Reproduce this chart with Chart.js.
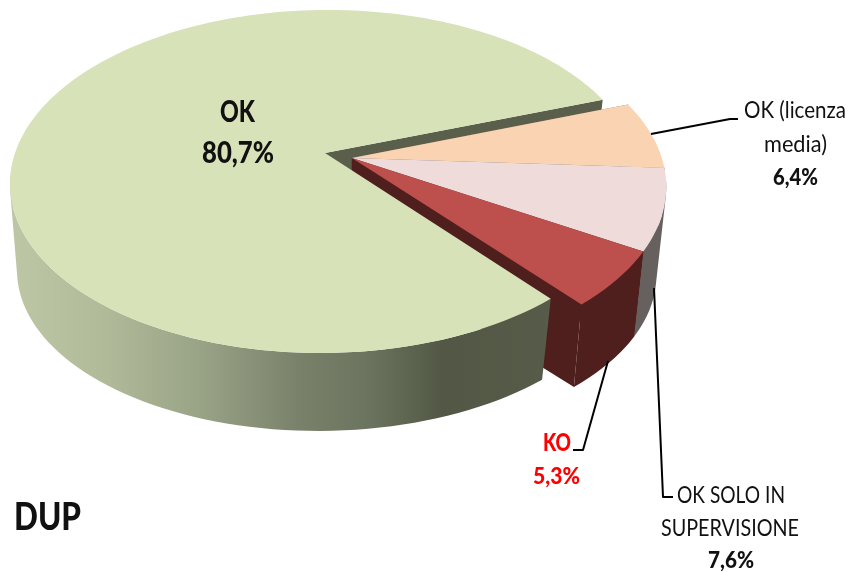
<!DOCTYPE html>
<html>
<head>
<meta charset="utf-8">
<title>DUP</title>
<script src="https://cdn.jsdelivr.net/npm/chart.js@4"></script>
<style>
html, body { margin: 0; padding: 0; background: #fff; overflow: hidden; }
canvas { display: block; }
</style>
</head>
<body>
<canvas id="pie" width="852" height="572"></canvas>
<script>
const chartTitle = 'DUP';
const categories = ['OK (licenza media)', 'OK SOLO IN SUPERVISIONE', 'KO', 'OK'];
const shares = [6.4, 7.6, 5.3, 80.7];
const topColors = ['#fad3b3', '#eedbda', '#bd4f4c', '#d7e2b9'];
const sideColors = ['#8a7460', '#66605f', '#4f1f1e', '#5a5f4b'];

const pct = i => shares[i].toFixed(1).replace('.', ',') + '%';

// perspective of the disc: top face and bottom face, apex of the big slice as origin
const topFace = { x: 325, y: 153, a: 310, b: 166.8, skew: -4 };
const bottomFace = { x: 323, y: 241.5, a: 301, b: 158, skew: -4 };
const smallBottomFace = { x: 325, y: 243.5, a: 301, b: 158, skew: -4 };
const tilt = 0.166;
const explode = { u: 0.0866, v: 0.0297, r: 0.995 }; // the three small slices
const BIG = 3;

function project(face, u, v) {
    const w = 1 - tilt * v;
    return [face.x + (face.a * u + face.skew * v) / w, face.y + face.b * v / w];
}

function rimPoints(arc, i, face) {
    const off = i === BIG ? { u: 0, v: 0, r: 1 } : explode;
    const steps = Math.ceil((arc.endAngle - arc.startAngle) * 30);
    const pts = [];
    for (let s = 0; s <= steps; s++) {
        const t = arc.startAngle + (arc.endAngle - arc.startAngle) * s / steps;
        pts.push(project(face, off.u + off.r * Math.cos(t), off.v + off.r * Math.sin(t)));
    }
    return pts;
}

function apex(i, face) {
    return i === BIG ? project(face, 0, 0) : project(face, explode.u, explode.v);
}

function fillPoly(ctx, pts, color) {
    ctx.beginPath();
    pts.forEach((p, n) => n ? ctx.lineTo(p[0], p[1]) : ctx.moveTo(p[0], p[1]));
    ctx.closePath();
    ctx.fillStyle = color;
    ctx.fill();
}

// the curved wall: quads of the near part of the rim, filled as one path so no seams show
function fillWall(ctx, top, bot, color) {
    ctx.beginPath();
    for (let n = 0; n < top.length - 1; n++) {
        if (top[n][1] < 175) continue;
        const q = [top[n], top[n + 1], bot[n + 1], bot[n]];
        let area = 0;
        q.forEach((p, k) => {
            const r = q[(k + 1) % 4];
            area += p[0] * r[1] - r[0] * p[1];
        });
        if (area < 0) q.reverse();
        q.forEach((p, k) => k ? ctx.lineTo(p[0], p[1]) : ctx.moveTo(p[0], p[1]));
        ctx.closePath();
    }
    ctx.fillStyle = color;
    ctx.fill();
}

const pie3d = {
    id: 'pie3d',
    beforeDatasetsDraw(chart) {
        const ctx = chart.ctx;
        const arcs = chart.getDatasetMeta(0).data;
        const top = arcs.map((a, i) => rimPoints(a, i, topFace));
        const bot = arcs.map((a, i) => rimPoints(a, i, i === BIG ? bottomFace : smallBottomFace));

        // far cut face of the big slice
        const t = top[BIG], b = bot[BIG];
        fillPoly(ctx, [apex(BIG, topFace), t[t.length - 1], b[b.length - 1], apex(BIG, bottomFace)], sideColors[BIG]);

        // small slices: sides, far to near
        [0, 1, 2].forEach(i => {
            const first = top[i][0], last = top[i][top[i].length - 1];
            const first2 = bot[i][0], last2 = bot[i][bot[i].length - 1];
            fillPoly(ctx, [apex(i, topFace), first, first2, apex(i, smallBottomFace)], sideColors[i]);
            fillPoly(ctx, [apex(i, topFace), last, last2, apex(i, smallBottomFace)], sideColors[i]);
            fillWall(ctx, top[i], bot[i], sideColors[i]);
        });

        // rim of the big slice, shaded left to right
        const grad = ctx.createLinearGradient(18, 0, 548, 0);
        grad.addColorStop(0, '#bcc6a5');
        grad.addColorStop(0.17, '#b0ba99');
        grad.addColorStop(0.35, '#98a285');
        grad.addColorStop(0.53, '#7a816b');
        grad.addColorStop(0.66, '#6b745e');
        grad.addColorStop(0.8, '#525845');
        grad.addColorStop(1, '#575b49');
        fillWall(ctx, t, b, grad);

        // top faces
        [BIG, 0, 1, 2].forEach(i => {
            fillPoly(ctx, [apex(i, topFace)].concat(top[i]), topColors[i]);
        });
        return false;
    },
    afterDraw(chart) {
        const ctx = chart.ctx;
        ctx.strokeStyle = '#000';
        ctx.lineWidth = 2;
        ctx.lineJoin = 'round';
        leaders.forEach(line => {
            ctx.beginPath();
            line.forEach((p, n) => n ? ctx.lineTo(p[0], p[1]) : ctx.moveTo(p[0], p[1]));
            ctx.stroke();
        });
        ctx.textAlign = 'left';
        ctx.textBaseline = 'alphabetic';
        texts.forEach(l => {
            ctx.font = l.font;
            ctx.fillStyle = l.color;
            ctx.fillText(l.text, l.x, l.y, l.w);
        });
    }
};

const leaders = [
    [[651, 134], [730, 119], [738, 119]],
    [[608, 361], [583, 450], [573, 450]],
    [[654, 288], [663, 497], [673, 497]]
];

const regular = '23px Lato, sans-serif';
const bold = '900 22px Lato, sans-serif';
const texts = [
    { text: 'OK', x: 220, y: 122, w: 35, font: '900 30px Lato, sans-serif', color: '#111' },
    { text: pct(3), x: 202, y: 163, w: 72, font: '900 30px Lato, sans-serif', color: '#111' },
    { text: 'OK (licenza', x: 744, y: 118, w: 102, font: regular, color: '#111' },
    { text: 'media)', x: 764, y: 152, w: 63, font: regular, color: '#111' },
    { text: pct(0), x: 773, y: 185, w: 45, font: bold, color: '#111' },
    { text: 'KO', x: 543, y: 451, w: 28, font: '900 24px Lato, sans-serif', color: '#f00' },
    { text: pct(2), x: 533, y: 484, w: 47, font: bold, color: '#f00' },
    { text: 'OK SOLO IN', x: 677, y: 503, w: 108, font: regular, color: '#111' },
    { text: 'SUPERVISIONE', x: 661, y: 536, w: 138, font: regular, color: '#111' },
    { text: pct(1), x: 708, y: 568, w: 46, font: bold, color: '#111' },
    { text: chartTitle, x: 14, y: 530, w: 67, font: '900 38px Lato, sans-serif', color: '#111' }
];

new Chart(document.getElementById('pie'), {
    type: 'pie',
    data: {
        labels: categories,
        datasets: [{ data: shares, backgroundColor: topColors, borderWidth: 0 }]
    },
    options: {
        responsive: false,
        animation: false,
        rotation: 70.3,
        plugins: { legend: { display: false }, tooltip: { enabled: false } }
    },
    plugins: [pie3d]
});
</script>
</body>
</html>
